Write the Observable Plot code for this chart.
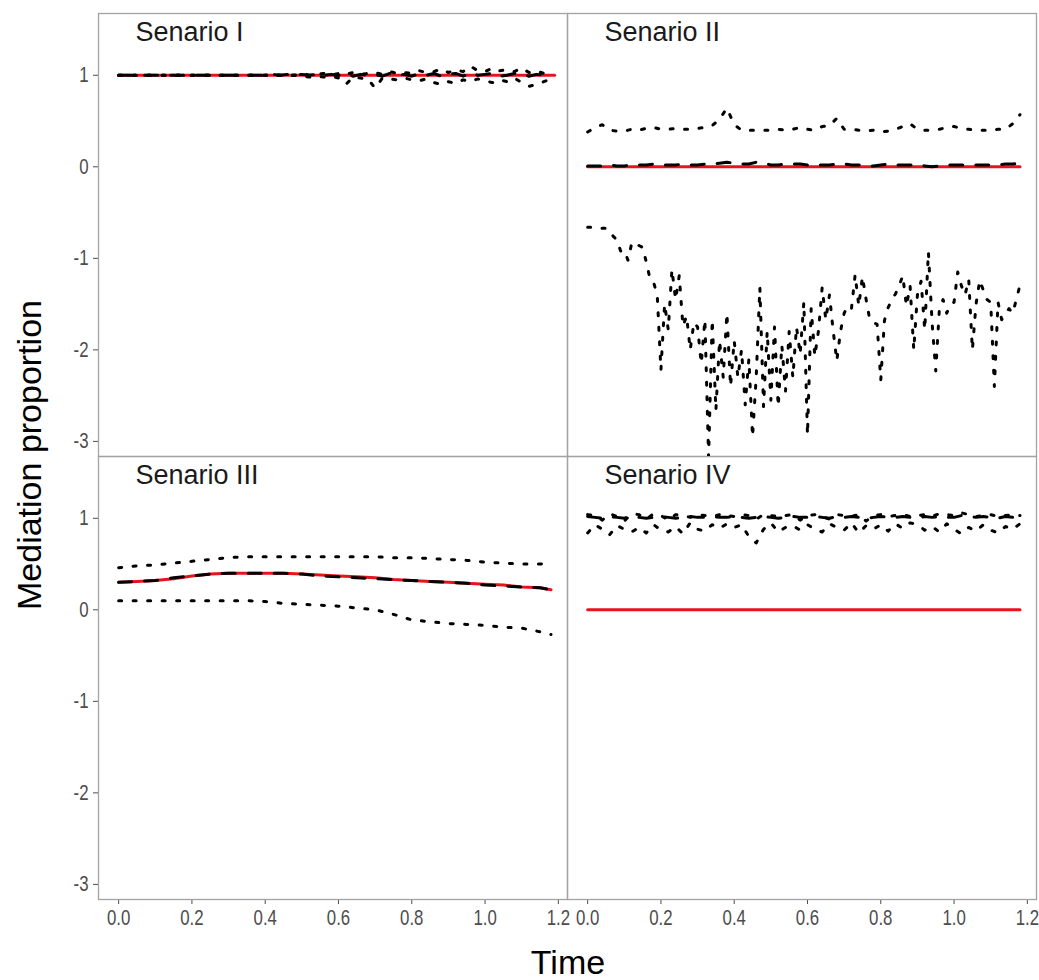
<!DOCTYPE html>
<html>
<head>
<meta charset="utf-8">
<script src="https://cdn.jsdelivr.net/npm/d3@7"></script>
<script src="https://cdn.jsdelivr.net/npm/@observablehq/plot@0.6"></script>
<style>
  html, body { margin: 0; padding: 0; background: #fff; }
  #wrap { position: relative; width: 1039px; height: 980px; font-family: "Liberation Sans", Arial, sans-serif; }
  #wrap svg { position: absolute; left: 0; top: 0; }
  .lab { position: absolute; color: #000; white-space: nowrap; }
</style>
</head>
<body>
<div id="wrap">
  <div class="lab" id="ylab" style="left:29px; top:455px; font-size:34px; transform: translate(-50%,-50%) rotate(-90deg);">Mediation proportion</div>
  <div class="lab" id="xlab" style="left:568px; top:962px; font-size:34px; transform: translate(-50%,-50%);">Time</div>
</div>
<script>
// ---------- data ----------
const panelNames = ["Senario I", "Senario II", "Senario III", "Senario IV"];
const panelCol = [0, 1, 0, 1];
const panelRow = [0, 0, 1, 1];

const xTicks = [0, 0.2, 0.4, 0.6, 0.8, 1.0, 1.2];
const yTicks = [-3, -2, -1, 0, 1];

// time grids
const tTrueI = [0, 1.19];
const tTrue = [0, 1.18];
const t02 = [0.00,0.02,0.04,0.06,0.08,0.10,0.12,0.14,0.16,0.18,0.20,0.22,0.24,0.26,0.28,0.30,0.32,0.34,0.36,0.38,
  0.40,0.42,0.44,0.46,0.48,0.50,0.52,0.54,0.56,0.58,0.60,0.62,0.64,0.66,0.68,0.70,0.72,0.74,0.76,0.78,
  0.80,0.82,0.84,0.86,0.88,0.90,0.92,0.94,0.96,0.98,1.00,1.02,1.04,1.06,1.08,1.10,1.12,1.14,1.16,1.18];
const t01 = [0.00,0.01,0.02,0.03,0.04,0.05,0.06,0.07,0.08,0.09,0.10,0.11,0.12,0.13,0.14,0.15,0.16,0.17,0.18,0.19,
  0.20,0.21,0.22,0.23,0.24,0.25,0.26,0.27,0.28,0.29,0.30,0.31,0.32,0.33,0.34,0.35,0.36,0.37,0.38,0.39,
  0.40,0.41,0.42,0.43,0.44,0.45,0.46,0.47,0.48,0.49,0.50,0.51,0.52,0.53,0.54,0.55,0.56,0.57,0.58,0.59,
  0.60,0.61,0.62,0.63,0.64,0.65,0.66,0.67,0.68,0.69,0.70,0.71,0.72,0.73,0.74,0.75,0.76,0.77,0.78,0.79,
  0.80,0.81,0.82,0.83,0.84,0.85,0.86,0.87,0.88,0.89,0.90,0.91,0.92,0.93,0.94,0.95,0.96,0.97,0.98,0.99,
  1.00,1.01,1.02,1.03,1.04,1.05,1.06,1.07,1.08,1.09,1.10,1.11,1.12,1.13,1.14,1.15,1.16,1.17,1.18];
const t05 = [0.00,0.05,0.10,0.15,0.20,0.25,0.30,0.35,0.40,0.45,0.50,0.55,0.60,0.65,0.70,0.75,0.80,0.85,0.90,0.95,1.00,1.05,1.10,1.15,1.18];

// Senario I
const trueI = [1, 1];
const estI = [1.00,1.00,1.00,1.00,1.00,1.00,1.00,1.00,1.00,1.00,1.00,1.00,1.00,1.00,1.00,1.00,1.00,1.00,1.00,1.00,
  1.00,1.01,1.00,1.01,1.00,1.01,1.00,1.01,1.00,1.01,1.00,1.01,0.99,1.01,1.00,1.01,0.99,1.02,1.00,1.01,
  0.99,1.02,1.00,1.02,0.99,1.01,1.02,0.99,1.03,1.00,1.01,1.02,0.99,1.00,1.02,1.01,0.99,1.01,1.00,0.98];
const hiI = [1.00,1.00,1.00,1.00,1.00,1.00,1.00,1.00,1.00,1.00,1.00,1.00,1.00,1.00,1.00,1.00,1.00,1.00,1.00,1.00,
  1.00,1.01,1.00,1.01,1.00,1.02,1.00,1.01,1.02,1.00,1.02,1.01,1.03,1.01,1.02,1.03,1.01,1.04,1.02,1.03,
  1.02,1.05,1.03,1.04,1.07,1.03,1.06,1.04,1.10,1.05,1.04,1.08,1.05,1.06,1.04,1.08,1.03,1.05,1.02,1.01];
const loI = [1.00,1.00,1.00,1.00,1.00,1.00,1.00,1.00,1.00,1.00,1.00,1.00,1.00,1.00,1.00,1.00,1.00,1.00,1.00,1.00,
  1.00,0.99,1.00,0.99,1.00,0.99,0.98,0.99,0.98,0.99,0.97,0.90,0.98,0.97,0.96,0.86,0.97,0.96,0.95,0.97,
  0.95,0.94,0.96,0.92,0.90,0.93,0.91,0.95,0.93,0.96,0.94,0.92,0.95,0.93,0.97,0.92,0.88,0.90,0.93,0.96];

// Senario II
const trueII = [0, 0];
const estII = [0.01,0.01,0.01,0.02,0.01,0.01,0.02,0.02,0.02,0.03,0.02,0.02,0.02,0.03,0.02,0.02,0.03,0.03,0.04,0.05,
  0.04,0.03,0.03,0.05,0.04,0.02,0.02,0.03,0.03,0.03,0.02,0.02,0.02,0.02,0.03,0.03,0.02,0.02,0.01,0.01,
  0.02,0.03,0.02,0.02,0.02,0.02,0.01,0.00,0.01,0.02,0.02,0.02,0.02,0.02,0.02,0.02,0.02,0.03,0.03,0.04];
const hiII = [0.38,0.43,0.46,0.40,0.39,0.39,0.41,0.40,0.42,0.43,0.41,0.41,0.42,0.41,0.41,0.42,0.43,0.45,0.52,0.64,
  0.46,0.40,0.40,0.40,0.40,0.40,0.41,0.40,0.41,0.43,0.41,0.40,0.44,0.45,0.53,0.41,0.41,0.40,0.39,0.40,
  0.38,0.39,0.41,0.44,0.47,0.41,0.40,0.40,0.41,0.43,0.44,0.42,0.41,0.40,0.40,0.40,0.41,0.41,0.47,0.57];
const loII = [-0.66,-0.66,-0.67,-0.67,-0.67,-0.67,-0.70,-0.76,-0.80,-0.92,-0.91,-1.02,-0.84,-0.82,-0.86,-0.88,-1.04,-1.22,-1.26,-1.41,
  -2.22,-1.50,-1.78,-1.12,-1.45,-1.19,-1.74,-1.63,-2.00,-1.70,-1.75,-2.15,-1.67,-3.17,-1.67,-2.66,-1.90,-2.30,-1.60,-2.40,
  -1.90,-2.30,-2.00,-2.60,-2.10,-2.95,-2.30,-1.32,-2.62,-1.80,-2.55,-1.75,-2.62,-1.95,-2.45,-1.80,-2.30,-1.75,-2.05,-1.48,
  -2.93,-1.55,-2.07,-1.79,-1.32,-1.67,-1.40,-1.79,-2.12,-1.80,-1.60,-1.52,-1.55,-1.18,-1.52,-1.20,-1.45,-1.67,-1.70,-1.72,
  -2.33,-1.68,-1.54,-1.45,-1.39,-1.30,-1.19,-1.52,-1.30,-2.00,-1.40,-1.25,-1.78,-0.93,-1.70,-2.23,-1.55,-1.45,-1.60,-1.50,
  -1.48,-1.15,-1.30,-1.40,-1.23,-2.00,-1.50,-1.24,-1.35,-1.45,-1.48,-2.40,-1.48,-1.67,-1.60,-1.55,-1.60,-1.45,-1.29];

// Senario III
const trueIII = [0.30,0.31,0.32,0.34,0.37,0.39,0.40,0.40,0.40,0.40,0.39,0.38,0.37,0.36,0.35,0.33,0.32,0.31,0.30,0.29,0.28,0.27,0.25,0.24,0.22];
const estIII = [0.30,0.31,0.32,0.35,0.37,0.39,0.40,0.40,0.40,0.40,0.39,0.37,0.36,0.35,0.34,0.33,0.32,0.31,0.30,0.29,0.27,0.26,0.25,0.24,0.22];
const hiIII = [0.46,0.48,0.49,0.51,0.53,0.55,0.57,0.58,0.58,0.58,0.58,0.58,0.58,0.58,0.58,0.57,0.57,0.56,0.55,0.54,0.52,0.51,0.50,0.50,0.51];
const loIII = [0.10,0.10,0.10,0.10,0.10,0.10,0.10,0.10,0.09,0.07,0.06,0.05,0.04,0.02,0.00,-0.05,-0.11,-0.13,-0.15,-0.16,-0.17,-0.19,-0.20,-0.24,-0.27];

// Senario IV
const trueIV = [0, 0];
const estIV = [1.02,1.01,1.00,1.02,1.01,1.00,1.02,1.01,1.00,1.01,1.02,1.01,1.00,1.01,1.02,1.01,1.01,1.02,1.01,1.01,
  1.02,1.01,1.00,1.01,1.02,1.01,1.00,1.01,1.02,1.01,1.01,1.02,1.01,1.00,1.02,1.01,1.02,1.01,1.00,1.01,
  1.02,1.01,1.01,1.02,1.01,1.00,1.02,1.01,1.02,1.01,1.01,1.03,1.02,1.01,1.02,1.01,1.00,1.02,1.01,1.02];
const hiIV = [1.04,1.03,0.98,1.05,1.02,0.97,1.05,1.04,0.99,1.05,1.03,0.98,1.04,1.03,1.01,1.04,1.03,1.02,1.04,1.03,
  1.02,1.04,1.03,0.99,1.04,1.03,1.02,1.03,1.04,0.98,1.03,1.04,1.02,0.99,1.04,1.03,1.02,1.04,0.97,1.03,
  1.04,1.02,1.03,1.04,1.02,1.03,1.04,1.02,1.05,1.04,1.03,1.06,1.04,1.02,1.03,1.04,1.02,1.03,1.04,1.03];
const loIV = [0.84,0.93,0.88,0.82,0.92,0.88,0.85,0.90,0.84,0.93,0.87,0.85,0.91,0.83,0.95,0.88,0.86,0.93,0.89,0.94,
  0.90,0.93,0.80,0.73,0.88,0.95,0.85,0.90,0.92,0.87,0.93,0.88,0.85,0.94,0.90,0.87,0.95,0.84,0.92,0.88,
  0.93,0.86,0.94,0.89,0.95,0.93,0.87,0.91,0.85,0.94,0.88,0.83,0.90,0.86,0.93,0.87,0.84,0.91,0.88,0.94];

// ---------- table ----------
const rows = [];
function add(p, type, ts, vs) {
  ts.forEach((t, i) => rows.push({p, type, key: p + "-" + type, t, v: vs[i]}));
}
add(0, "true", tTrueI, trueI); add(0, "est", t02, estI); add(0, "hi", t02, hiI); add(0, "lo", t02, loI);
add(1, "true", tTrue, trueII); add(1, "est", t02, estII); add(1, "hi", t02, hiII); add(1, "lo", t01, loII);
add(2, "true", t05, trueIII); add(2, "est", t05, estIII); add(2, "hi", t05, hiIII); add(2, "lo", t05, loIII);
add(3, "true", tTrue, trueIV); add(3, "est", t02, estIV); add(3, "hi", t02, hiIV); add(3, "lo", t02, loIV);

const labels = panelNames.map((name, i) => ({p: i, name}));
const FX = d => panelCol[d.p];
const FY = d => panelRow[d.p];

const chart = Plot.plot({
  width: 1039,
  height: 980,
  marginLeft: 98,
  marginRight: 3,
  marginTop: 12,
  marginBottom: 81,
  style: {fontFamily: '"Liberation Sans", Arial, sans-serif', fontSize: "21px", color: "#4d4d4d", background: "transparent"},
  fx: {domain: [0, 1], padding: 0, axis: null},
  fy: {domain: [0, 1], padding: 0, axis: null},
  x: {domain: [-0.055, 1.225], ticks: xTicks, tickFormat: d => d.toFixed(1), label: null, tickSize: 5, tickPadding: 5},
  y: {domain: [-3.165, 1.675], ticks: yTicks, tickFormat: d => String(d), label: null, tickSize: 5, tickPadding: 5},
  marks: [
    Plot.frame({stroke: "#a3a3a3", strokeWidth: 1.3}),
    Plot.line(rows, {filter: d => d.type === "true", x: "t", y: "v", z: "key", fx: FX, fy: FY,
      stroke: "#e8141b", strokeWidth: 3, clip: true}),
    Plot.line(rows, {filter: d => d.type === "est", x: "t", y: "v", z: "key", fx: FX, fy: FY,
      stroke: "#000", strokeWidth: 3, strokeDasharray: "13,13", clip: true}),
    Plot.line(rows, {filter: d => d.type === "hi" || d.type === "lo", x: "t", y: "v", z: "key", fx: FX, fy: FY,
      stroke: "#000", strokeWidth: 3, strokeDasharray: "3,11.5", clip: true}),
    Plot.text(labels, {fx: FX, fy: FY, text: "name", frameAnchor: "top-left", dx: 37, dy: 8,
      lineAnchor: "top", textAnchor: "start", fontSize: 27, fill: "#1a1a1a"})
  ]
});
// condense tick labels to match the reference's narrow glyphs
chart.querySelectorAll('g[aria-label$="tick label"] text').forEach(t => {
  const tr = t.getAttribute("transform") || "";
  t.setAttribute("transform", tr + " scale(0.8,1.05)");
});
document.getElementById("wrap").prepend(chart);
</script>
</body>
</html>
